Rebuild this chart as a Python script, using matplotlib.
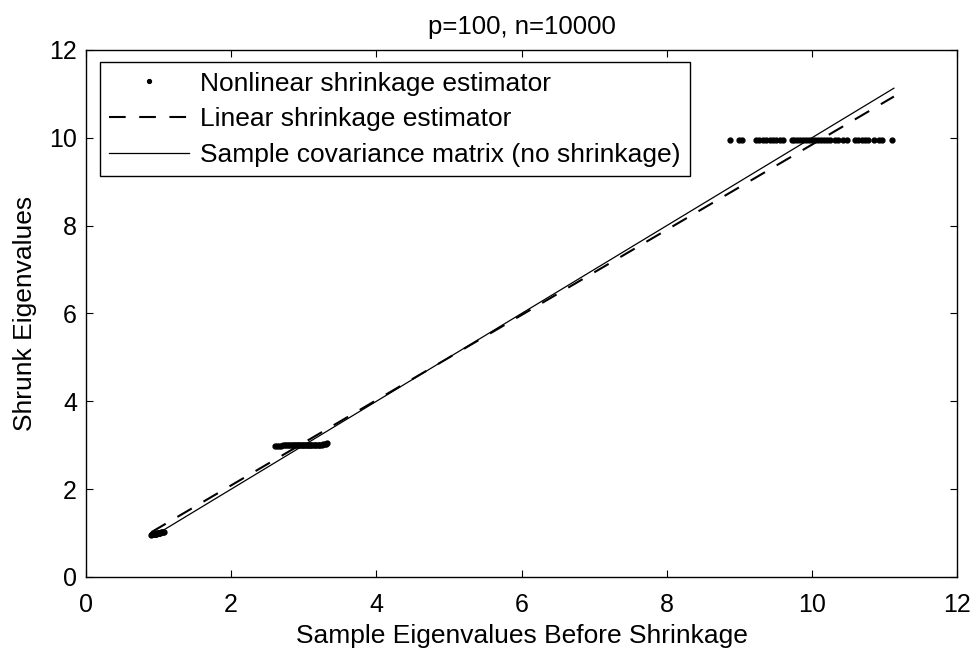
import matplotlib.pyplot as plt

plt.rcParams['font.family'] = ['Liberation Sans', 'DejaVu Sans']

# nonlinear shrinkage estimator (three clusters of sample eigenvalues)
nl_x1 = [0.90, 0.91, 0.92, 0.93, 0.94, 0.95, 0.96, 0.96, 0.97, 0.98,
         0.98, 0.99, 1.00, 1.00, 1.01, 1.02, 1.03, 1.04, 1.06, 1.08]
nl_y1 = [0.96, 0.97, 0.97, 0.98, 0.98, 0.98, 0.99, 0.99, 0.99, 1.00,
         1.00, 1.00, 1.00, 1.01, 1.01, 1.01, 1.02, 1.02, 1.02, 1.03]

nl_x3 = [2.60, 2.63, 2.66, 2.69, 2.71, 2.74, 2.76, 2.78, 2.80, 2.82,
         2.84, 2.86, 2.87, 2.89, 2.91, 2.92, 2.94, 2.95, 2.97, 2.98,
         3.00, 3.01, 3.03, 3.04, 3.06, 3.07, 3.09, 3.10, 3.12, 3.14,
         3.15, 3.17, 3.19, 3.21, 3.23, 3.25, 3.27, 3.29, 3.31, 3.32]
nl_y3 = [2.99, 2.99, 2.99, 2.99, 3.00, 3.00, 3.00, 3.00, 3.00, 3.00,
         3.00, 3.00, 3.00, 3.00, 3.00, 3.00, 3.00, 3.00, 3.00, 3.00,
         3.00, 3.00, 3.00, 3.00, 3.00, 3.00, 3.00, 3.00, 3.00, 3.00,
         3.00, 3.00, 3.01, 3.01, 3.01, 3.01, 3.02, 3.02, 3.03, 3.04]

nl_x10 = [8.87, 9.00, 9.04, 9.23, 9.27, 9.32, 9.37, 9.42, 9.47, 9.51,
          9.56, 9.60, 9.72, 9.76, 9.80, 9.84, 9.88, 9.92, 9.96, 10.00,
          10.04, 10.08, 10.12, 10.17, 10.21, 10.25, 10.32, 10.36, 10.43, 10.48,
          10.59, 10.64, 10.69, 10.73, 10.78, 10.85, 10.93, 10.97, 11.11]
nl_y10 = [9.96, 9.96, 9.96, 9.96, 9.96, 9.96, 9.96, 9.96, 9.96, 9.96,
          9.96, 9.96, 9.96, 9.96, 9.96, 9.96, 9.96, 9.96, 9.96, 9.96,
          9.96, 9.96, 9.96, 9.96, 9.96, 9.96, 9.96, 9.96, 9.96, 9.96,
          9.96, 9.96, 9.96, 9.96, 9.96, 9.96, 9.96, 9.96, 9.96]

# linear shrinkage and sample covariance (straight lines, endpoints)
lin_x = [0.90, 11.13]
lin_y = [1.02, 10.94]
sam_x = [0.90, 11.13]
sam_y = [0.90, 11.13]

fig = plt.figure(figsize=(9.73, 6.51), dpi=100)
ax = fig.add_axes([0.0884, 0.1137, 0.8952, 0.8095])

nl_x = nl_x1 + nl_x3 + nl_x10
nl_y = nl_y1 + nl_y3 + nl_y10
ax.plot(nl_x, nl_y, linestyle='none', marker='o', markersize=3.5,
        color='black', label='Nonlinear shrinkage estimator')
ax.plot(lin_x, lin_y, color='black', linestyle=(0, (8, 6.5)), linewidth=1.5,
        label='Linear shrinkage estimator')
ax.plot(sam_x, sam_y, color='black', linewidth=0.9,
        label='Sample covariance matrix (no shrinkage)')

ax.set_xlim(0, 12)
ax.set_ylim(0, 12)
ax.set_xticks(range(0, 13, 2))
ax.set_yticks(range(0, 13, 2))
ax.tick_params(direction='in', top=True, right=True, length=5, width=0.8,
               labelsize=18)
ax.tick_params(axis='x', pad=11.5)
ax.tick_params(axis='y', pad=6.5)
for s in ax.spines.values():
    s.set_linewidth(1.0)

ax.set_title('p=100, n=10000', fontsize=18.5, pad=11.5)
ax.set_xlabel('Sample Eigenvalues Before Shrinkage', fontsize=19, labelpad=5)
ax.set_ylabel('Shrunk Eigenvalues', fontsize=19, labelpad=9)

leg = ax.legend(loc='upper left', bbox_to_anchor=(0.016, 0.977),
                borderaxespad=0, fontsize=19, handlelength=3.0,
                labelspacing=0.44, handletextpad=0.42, borderpad=0.36,
                fancybox=False, framealpha=1, edgecolor='black', markerscale=0.8)
leg.get_frame().set_linewidth(1.0)

fig.savefig('out.png', dpi=100)
